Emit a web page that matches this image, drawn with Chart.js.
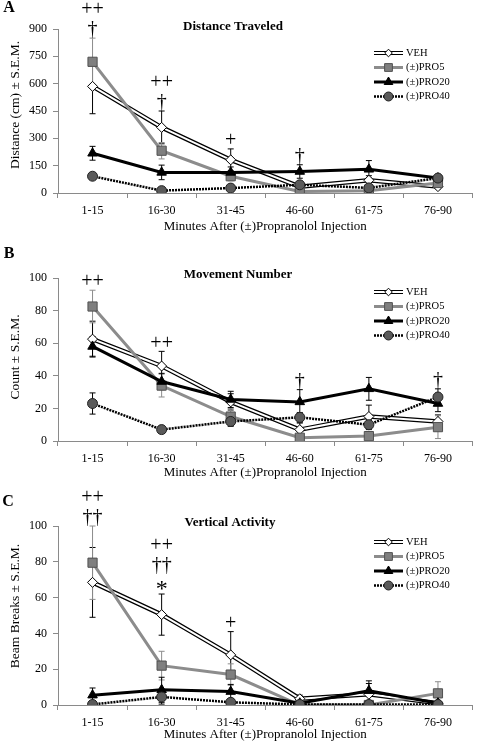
<!DOCTYPE html>
<html>
<head>
<meta charset="utf-8">
<script src="https://cdn.jsdelivr.net/npm/chart.js@4.4.0/dist/chart.umd.min.js"></script>
<style>
  body { margin: 0; background: #fff; }
  #wrap { position: relative; width: 480px; height: 746px; }
  .panel { position: absolute; left: 0; width: 480px; }
</style>
</head>
<body>
<div id="wrap">
  <div class="panel" style="top:0;height:245px"><canvas id="chartA"></canvas></div>
  <div class="panel" style="top:245px;height:245px"><canvas id="chartB"></canvas></div>
  <div class="panel" style="top:490px;height:256px"><canvas id="chartC"></canvas></div>
</div>
<script>
const categories = ['1-15', '16-30', '31-45', '46-60', '61-75', '76-90'];
const seriesNames = ['VEH', '(\u00b1)PRO5', '(\u00b1)PRO20', '(\u00b1)PRO40'];

// A: distance traveled (cm)
const distTicks = [0, 150, 300, 450, 600, 750, 900];
const distVEH = [585, 360, 182, 35, 70, 35];
const distVEHErr = [150, 90, 60, 12, 25, 12];
const distPRO5 = [720, 232, 92, 8, 12, 55];
const distPRO5Err = [130, 45, 25, 5, 8, 15];
const distPRO20 = [218, 113, 113, 118, 130, 82];
const distPRO20Err = [38, 40, 30, 37, 48, 15];
const distPRO40 = [92, 13, 27, 45, 28, 82];
const distPRO40Err = [10, 5, 8, 10, 8, 12];
const distNotes = [['++', '\u2020'], ['++', '\u2020'], ['+'], ['\u2020'], [], []];

// B: movement number
const moveTicks = [0, 20, 40, 60, 80, 100];
const moveVEH = [62.5, 46, 24, 7, 15, 12];
const moveVEHErr = [11, 9, 5, 4, 7, 4];
const movePRO5 = [82.5, 34, 15, 2, 3, 8.5];
const movePRO5Err = [10, 7, 5, 1.5, 2, 7];
const movePRO20 = [58, 36.5, 25.5, 24, 32, 23];
const movePRO20Err = [6, 5, 5, 7.5, 7, 5];
const movePRO40 = [23, 7, 12, 14.5, 10, 27];
const movePRO40Err = [6.5, 1.5, 3, 3, 3, 5];
const moveNotes = [['++'], ['++'], [], ['\u2020'], [], ['\u2020']];

// C: vertical activity (beam breaks)
const vertTicks = [0, 20, 40, 60, 80, 100];
const vertVEH = [68.5, 50.5, 28, 3.5, 6, 1];
const vertVEHErr = [19.5, 11.5, 13, 2, 6, 1];
const vertPRO5 = [79.5, 22, 17, 0, 0, 6.5];
const vertPRO5Err = [20.5, 8, 6, 0.5, 0.5, 6.5];
const vertPRO20 = [5.5, 8.5, 7.5, 1, 8, 1];
const vertPRO20Err = [4, 7, 4, 1, 5.5, 1];
const vertPRO40 = [0.3, 4.5, 1.5, 0.3, 0.3, 0.3];
const vertPRO40Err = [0.5, 4, 1, 0.3, 0.3, 0.3];
const vertNotes = [['++', '\u2020\u2020'], ['++', '\u2020\u2020', '*'], ['+'], [], [], []];

const serif = "'Liberation Serif', 'Times New Roman', serif";
const axisGray = '#8a8a8a';
const proGray = '#8c8c8c';

// marker/line styles per series, used by both datasets and legend
const styles = [
  { line: '#fff', width: 2, outline: true, point: 'rectRot', r: 5, fill: '#fff', edge: '#000', errColor: '#000', lr: 3.8 },
  { line: proGray, width: 3, point: 'rect', r: 6.5, fill: '#7f7f7f', edge: '#505050', errColor: proGray, lr: 5.5 },
  { line: '#000', width: 3, point: 'triangle', r: 5.5, fill: '#000', edge: '#000', errColor: '#000', lr: 5 },
  { line: '#000', width: 2.5, dash: [2, 1], point: 'circle', r: 5, fill: '#5a5a5a', edge: '#222', errColor: '#000', lr: 4.5 }
];

function buildSets(values, errors) {
  const sets = [];
  values.forEach((vals, k) => {
    const st = styles[k];
    if (st.outline) {
      sets.push({ data: vals, borderColor: '#000', borderWidth: 4.5, pointRadius: 0, order: 9 });
    }
    sets.push({
      data: vals,
      errors: errors[k],
      errColor: st.errColor,
      borderColor: st.line,
      borderWidth: st.width,
      borderDash: st.dash || [],
      pointStyle: st.point,
      pointRadius: st.r,
      pointBackgroundColor: st.fill,
      pointBorderColor: st.edge,
      pointBorderWidth: 1,
      tension: 0,
      order: 4 - k
    });
  });
  return sets;
}

const decor = {
  id: 'decor',
  beforeDatasetsDraw(chart) {
    const { ctx, chartArea, scales: { x, y } } = chart;
    ctx.save();
    ctx.beginPath();
    ctx.rect(chartArea.left, 0, chartArea.width, chartArea.bottom);
    ctx.clip();
    ctx.lineWidth = 1;
    chart.data.datasets.forEach(ds => {
      if (!ds.errors) return;
      ctx.strokeStyle = ds.errColor;
      ds.data.forEach((v, i) => {
        const px = x.getPixelForValue(i);
        const top = y.getPixelForValue(v + ds.errors[i]);
        const bot = y.getPixelForValue(Math.max(v - ds.errors[i], 0));
        ctx.beginPath();
        ctx.moveTo(px, top); ctx.lineTo(px, bot);
        ctx.moveTo(px - 3, top); ctx.lineTo(px + 3, top);
        ctx.moveTo(px - 3, bot); ctx.lineTo(px + 3, bot);
        ctx.stroke();
      });
    });
    ctx.restore();
  },
  afterDraw(chart, args, o) {
    const { ctx, chartArea, scales: { x, y } } = chart;
    ctx.save();
    ctx.fillStyle = '#000';

    // panel letter
    ctx.font = 'bold 16px ' + serif;
    ctx.textAlign = 'center';
    ctx.textBaseline = 'middle';
    ctx.fillText(o.letter, o.letterX, o.letterY);

    // chart title
    ctx.font = 'bold 13px ' + serif;
    ctx.fillText(o.title, o.titleX, o.titleY);

    // axis titles
    ctx.font = '13px ' + serif;
    ctx.fillText('Minutes After (\u00b1)Propranolol Injection', (chartArea.left + chartArea.right) / 2, chartArea.bottom + o.xTitleGap);
    ctx.save();
    ctx.translate(15, o.yTitleY);
    ctx.rotate(-Math.PI / 2);
    ctx.font = '13.5px ' + serif;
    ctx.fillText(o.yTitle, 0, 0);
    ctx.restore();

    // legend
    seriesNames.forEach((name, k) => {
      const st = styles[k];
      const ly = o.legendY + k * 14.5;
      const x0 = 374, x1 = 403;
      ctx.setLineDash(st.dash || []);
      if (st.outline) {
        ctx.strokeStyle = '#000';
        ctx.lineWidth = 4;
        ctx.beginPath(); ctx.moveTo(x0, ly); ctx.lineTo(x1, ly); ctx.stroke();
      }
      ctx.strokeStyle = st.line;
      ctx.lineWidth = st.outline ? 2 : st.width;
      ctx.beginPath(); ctx.moveTo(x0, ly); ctx.lineTo(x1, ly); ctx.stroke();
      ctx.setLineDash([]);
      ctx.fillStyle = st.fill;
      ctx.strokeStyle = st.edge;
      ctx.lineWidth = 1;
      Chart.helpers.drawPoint(ctx, { pointStyle: st.point, radius: st.lr, rotation: 0, borderWidth: 1 }, (x0 + x1) / 2, ly);
      ctx.fillStyle = '#000';
      ctx.font = '10.5px ' + serif;
      ctx.textAlign = 'left';
      ctx.fillText(name, 406, ly);
    });

    // significance marks above highest whisker
    ctx.textAlign = 'center';
    o.notes.forEach((marks, i) => {
      if (!marks.length) return;
      let top = chartArea.bottom;
      chart.data.datasets.forEach(ds => {
        if (!ds.errors) return;
        top = Math.min(top, y.getPixelForValue(ds.data[i] + ds.errors[i]));
      });
      const px = x.getPixelForValue(i);
      for (let k = marks.length - 1, n = 0; k >= 0; k--, n++) {
        const m = marks[k];
        ctx.font = (m === '*' ? '24px ' : '20px ') + serif;
        const dy = m === '*' ? 4 : 0;
        ctx.fillText(m, px, top - 8 - n * 20 + dy);
      }
    });
    ctx.restore();
  }
};

function makeChart(id, values, errors, ticks, d) {
  return new Chart(document.getElementById(id), {
    type: 'line',
    data: { labels: categories, datasets: buildSets(values, errors) },
    options: {
      responsive: true,
      maintainAspectRatio: false,
      animation: false,
      events: [],
      layout: { padding: { left: 0, right: 2, top: d.top, bottom: 0 } },
      plugins: {
        legend: { display: false },
        tooltip: { enabled: false },
        decor: d
      },
      scales: {
        x: {
          offset: true,
          grid: { offset: true, drawOnChartArea: false, drawTicks: true, tickLength: 5, color: axisGray },
          border: { color: axisGray, width: 1 },
          ticks: { color: '#000', font: { family: serif, size: 12 }, padding: 6, maxRotation: 0 },
          afterFit: s => { s.height = d.xh; }
        },
        y: {
          min: ticks[0],
          max: ticks[ticks.length - 1],
          afterBuildTicks: s => { s.ticks = ticks.map(v => ({ value: v })); },
          grid: { drawOnChartArea: false, drawTicks: true, tickLength: 5, color: axisGray },
          border: { color: axisGray, width: 1 },
          ticks: { color: '#000', font: { family: serif, size: 12 }, padding: 6 },
          afterFit: s => { s.width = 58; }
        }
      }
    },
    plugins: [decor]
  });
}

makeChart('chartA',
  [distVEH, distPRO5, distPRO20, distPRO40],
  [distVEHErr, distPRO5Err, distPRO20Err, distPRO40Err],
  distTicks,
  { top: 29, xh: 52, letter: 'A', letterX: 9, letterY: 8, title: 'Distance Traveled', titleX: 233, titleY: 27,
    yTitle: 'Distance (cm) \u00b1 S.E.M.', yTitleY: 105, xTitleGap: 34, legendY: 53, notes: distNotes });

makeChart('chartB',
  [moveVEH, movePRO5, movePRO20, movePRO40],
  [moveVEHErr, movePRO5Err, movePRO20Err, movePRO40Err],
  moveTicks,
  { top: 33, xh: 49, letter: 'B', letterX: 9, letterY: 9, title: 'Movement Number', titleX: 238, titleY: 30,
    yTitle: 'Count \u00b1 S.E.M.', yTitleY: 112, xTitleGap: 32, legendY: 47, notes: moveNotes });

makeChart('chartC',
  [vertVEH, vertPRO5, vertPRO20, vertPRO40],
  [vertVEHErr, vertPRO5Err, vertPRO20Err, vertPRO40Err],
  vertTicks,
  { top: 36, xh: 41, letter: 'C', letterX: 8, letterY: 12, title: 'Vertical Activity', titleX: 230, titleY: 33,
    yTitle: 'Beam Breaks \u00b1 S.E.M.', yTitleY: 116, xTitleGap: 30, legendY: 52, notes: vertNotes });
</script>
</body>
</html>
